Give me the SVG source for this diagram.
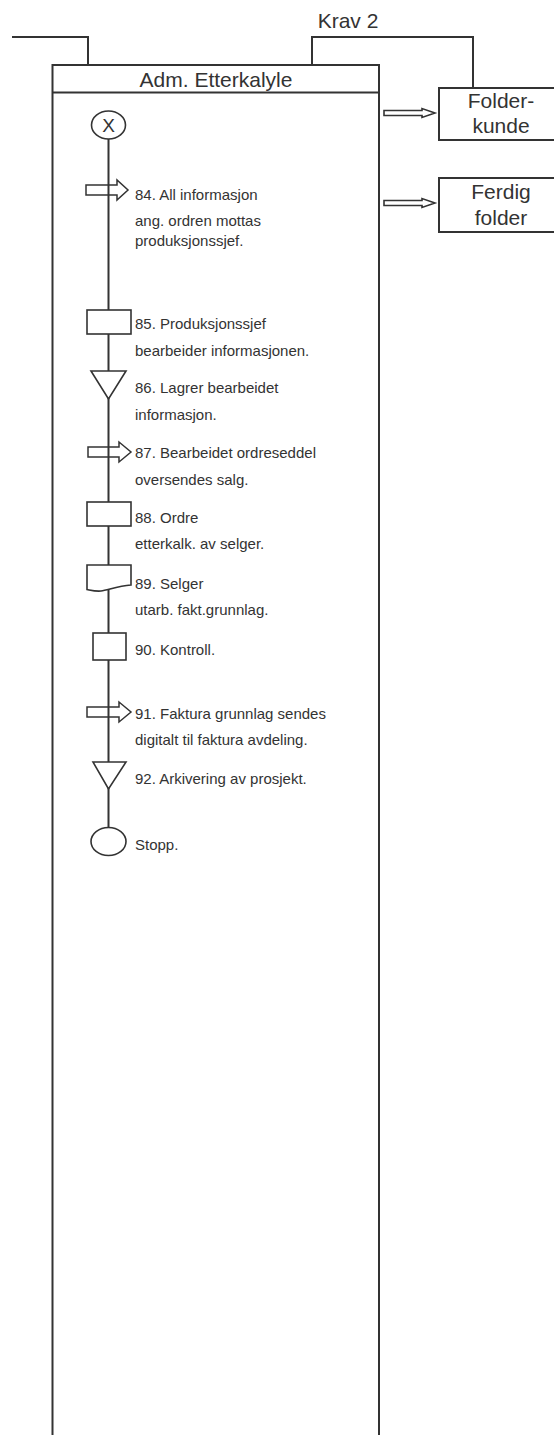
<svg xmlns="http://www.w3.org/2000/svg" width="554" height="1435" viewBox="0 0 554 1435">
<style>
.ln{fill:none;stroke:#333;stroke-width:2}
.sh{fill:#fff;stroke:#333;stroke-width:1.6}
.ar{fill:none;stroke:#333;stroke-width:1.5}
.big{font-family:"Liberation Sans",Arial,sans-serif;font-size:21px;fill:#333}
.txt{font-family:"Liberation Sans",Arial,sans-serif;font-size:15px;fill:#333}
</style>
<rect width="554" height="1435" fill="#fff"/>
<g id="connectors">
<path class="ln" d="M12,37 H88 V65"/>
<path class="ln" d="M312,65 V37 H473 V88"/>
<line class="ln" x1="108.5" y1="139" x2="108.5" y2="827"/>
<path class="sh" d="M384,110.5 H422 V108.5 L435,113 L422,117.5 V115.5 H384 Z"/>
<path class="sh" d="M384,200.5 H422 V198.5 L435,203 L422,207.5 V205.5 H384 Z"/>
</g>
<text class="big" x="348" y="28" text-anchor="middle">Krav 2</text>
<g id="lane">
<rect class="ln" x="52.5" y="65" width="326.5" height="1380"/>
<line class="ln" x1="52.5" y1="92.5" x2="379" y2="92.5"/>
<text class="big" x="216" y="87" text-anchor="middle">Adm. Etterkalyle</text>
</g>
<g id="folderkunde">
<rect class="ln" x="439" y="88" width="124" height="52"/>
<text class="big" x="501" y="108" text-anchor="middle">Folder-</text>
<text class="big" x="501" y="133" text-anchor="middle">kunde</text>
</g>
<g id="ferdigfolder">
<rect class="ln" x="439" y="178" width="124" height="54"/>
<text class="big" x="501" y="199" text-anchor="middle">Ferdig</text>
<text class="big" x="501" y="225" text-anchor="middle">folder</text>
</g>
<g id="start">
<ellipse class="sh" cx="108.5" cy="125" rx="17" ry="14"/>
<text class="big" x="108.5" y="132" text-anchor="middle" style="font-size:19px">X</text>
</g>
<g id="n84">
<path class="ar" d="M86,185 H117 V180 L128,190 L117,200 V195 H86 Z"/>
<text class="txt" x="135" y="200">84. All informasjon</text>
<text class="txt" x="135" y="226">ang. ordren mottas</text>
<text class="txt" x="135" y="246">produksjonssjef.</text>
</g>
<g id="n85">
<rect class="sh" x="87" y="310" width="44" height="24"/>
<text class="txt" x="135" y="329">85. Produksjonssjef</text>
<text class="txt" x="135" y="356">bearbeider informasjonen.</text>
</g>
<g id="n86">
<path class="sh" d="M91,371 H126 L108.5,399 Z"/>
<text class="txt" x="135" y="393">86. Lagrer bearbeidet</text>
<text class="txt" x="135" y="420">informasjon.</text>
</g>
<g id="n87">
<path class="ar" d="M88,447 H119 V442 L131,452 L119,462 V457 H88 Z"/>
<text class="txt" x="135" y="458">87. Bearbeidet ordreseddel</text>
<text class="txt" x="135" y="485">oversendes salg.</text>
</g>
<g id="n88">
<rect class="sh" x="87" y="502" width="44" height="24"/>
<text class="txt" x="135" y="523">88. Ordre</text>
<text class="txt" x="135" y="549">etterkalk. av selger.</text>
</g>
<g id="n89">
<path class="sh" d="M87,565 H131 V585 C118,586 108,590 101,591 C95,591.5 90,590 87,589.5 Z"/>
<text class="txt" x="135" y="589">89. Selger</text>
<text class="txt" x="135" y="615">utarb. fakt.grunnlag.</text>
</g>
<g id="n90">
<rect class="sh" x="93" y="633" width="33" height="27"/>
<text class="txt" x="135" y="655">90. Kontroll.</text>
</g>
<g id="n91">
<path class="ar" d="M87,707 H119 V702 L131,712 L119,722 V717 H87 Z"/>
<text class="txt" x="135" y="719">91. Faktura grunnlag sendes</text>
<text class="txt" x="135" y="745">digitalt til faktura avdeling.</text>
</g>
<g id="n92">
<path class="sh" d="M93,762 H126 L108.5,789 Z"/>
<text class="txt" x="135" y="784">92. Arkivering av prosjekt.</text>
</g>
<g id="stopp">
<ellipse class="sh" cx="108.5" cy="841.5" rx="17.5" ry="14"/>
<text class="txt" x="135" y="850">Stopp.</text>
</g>
</svg>
